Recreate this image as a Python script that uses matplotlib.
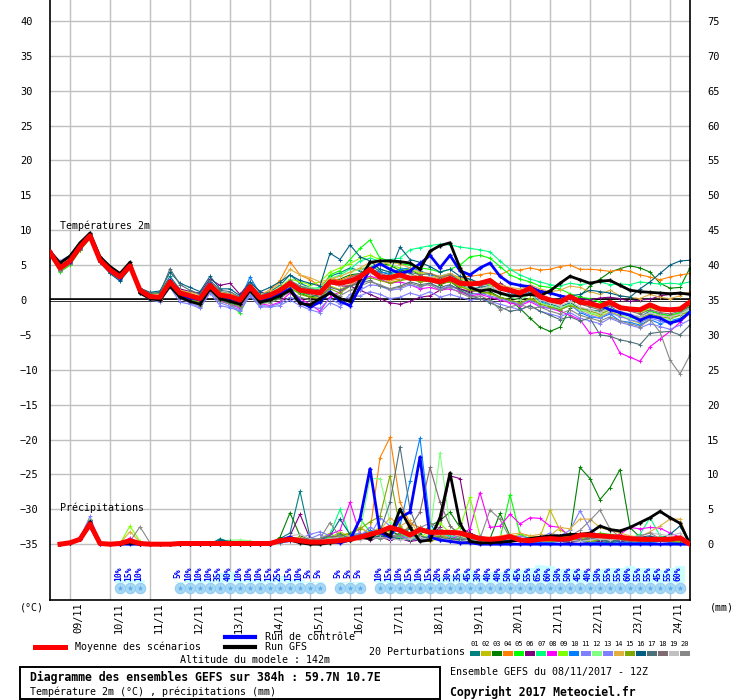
import matplotlib
matplotlib.use('Agg')
import matplotlib.pyplot as plt
from matplotlib.lines import Line2D
from matplotlib.patches import Rectangle
from matplotlib.transforms import blended_transform_factory

plt.rcParams['font.family'] = ['DejaVu Sans Mono', 'DejaVu Sans']

# time steps (hours after 08/11 12Z)
hours = list(range(0, 385, 6))
precip_hours = hours[1:]
grid_hours = list(range(12, 384, 24))
dates = ['09/11', '10/11', '11/11', '12/11', '13/11', '14/11', '15/11', '16/11',
         '17/11', '18/11', '19/11', '20/11', '21/11', '22/11', '23/11', '24/11']

member_colors = ['#008080', '#c0c000', '#008000', '#ff8000', '#00ff00', '#800080',
                 '#00ff80', '#ff00ff', '#80ff00', '#0080ff', '#8080ff', '#80ff80',
                 '#7f7fff', '#e0b040', '#80a800', '#005f80', '#4f7078', '#7f6a72',
                 '#c0c0c0', '#888888']

# temperature 2m
mean_t = [6.8, 4.6, 5.6, 7.6, 9.2, 5.7, 4.3, 3.3, 4.9, 1.4, 0.5, 0.4, 2.6, 1.0, 0.6, 0.2, 2.1, 0.7, 0.5, 0.0,
          1.9, 0.3, 0.7, 1.4, 2.4, 1.4, 1.2, 1.0, 2.6, 2.4, 2.7, 3.3, 4.4, 3.3, 3.2, 3.6, 3.1, 3.1, 2.9, 2.6,
          3.1, 2.4, 2.3, 2.4, 2.8, 1.7, 1.4, 1.0, 1.7, 0.5, 0.0, -0.3, 0.5, -0.3, -0.5, -0.9, -0.3, -1.1, -1.3, -1.4,
          -0.7, -1.3, -1.4, -1.3, -0.3]
gfs_t = [7.0, 5.3, 6.3, 8.2, 9.6, 6.2, 4.8, 3.8, 5.4, 1.0, 0.2, 0.0, 2.0, 0.4, -0.2, -0.6, 1.6, 0.2, -0.2, -0.6,
         1.4, -0.3, 0.0, 0.6, 1.4, -0.5, -0.7, 0.2, 1.0, 0.2, -0.2, 3.0, 5.4, 5.6, 5.6, 5.5, 5.3, 4.4, 7.0, 7.8,
         8.2, 4.6, 1.8, 1.3, 1.5, 1.0, 0.6, 0.6, 0.8, 0.6, 1.3, 2.4, 3.4, 2.9, 2.4, 2.7, 2.8, 2.1, 1.4, 1.2,
         1.1, 1.0, 0.9, 1.0, 0.8]
control_t = [6.7, 4.8, 5.5, 7.5, 9.1, 5.6, 4.2, 3.2, 4.8, 1.2, 0.4, 0.3, 2.8, 0.6, 0.3, 0.0, 2.3, 0.5, 0.2, -0.2,
             2.0, -0.1, 0.2, 0.9, 1.6, -0.3, -1.0, -0.3, 1.2, -0.2, -0.8, 1.8, 4.4, 5.2, 4.4, 3.8, 4.2, 5.2, 6.4, 4.6,
             6.4, 4.2, 3.6, 4.6, 5.3, 3.4, 2.4, 2.1, 1.9, 1.2, 1.0, 0.6, 0.3, -0.2, -0.5, -0.8, -1.4, -1.8, -2.2, -2.9,
             -2.3, -2.6, -3.3, -2.9, -1.7]

t01 = [6.9, 4.9, 5.8, 7.8, 9.3, 5.4, 3.9, 2.9, 4.6, 1.6, 0.9, 1.1, 3.4, 1.5, 0.9, 0.3, 2.6, 1.2, 0.9, 0.2, 2.3, 0.7,
       1.2, 2.1, 3.6, 2.4, 1.8, 1.2, 3.4, 3.9, 4.6, 4.2, 5.0, 4.1, 3.6, 4.4, 3.8, 3.2, 3.0, 2.4, 3.3, 2.2, 1.6,
       1.8, 2.1, 1.0, 0.8, 0.4, 1.2, 0.0, -0.6, -1.0, -0.4, -1.2, -1.4, -1.6, -0.9, -1.8, -2.2, -2.4, -1.6, -2.0, -2.3, -1.9, -1.2]
t02 = [6.7, 4.4, 5.3, 7.4, 9.0, 5.8, 4.5, 3.4, 5.0, 1.3, 0.4, 0.2, 2.3, 0.8, 0.2, -0.3, 1.7, 0.3, 0.0, -0.6, 1.5, 0.0,
       0.4, 1.0, 2.0, 1.2, 0.6, 0.2, 2.0, 1.5, 2.2, 3.0, 4.2, 3.4, 2.5, 2.8, 3.3, 2.6, 3.4, 2.2, 2.7, 1.9, 1.4,
       1.2, 0.9, 0.3, -0.3, -0.6, 0.3, -0.4, -0.8, -1.3, -0.6, -1.4, -1.9, -2.4, -1.7, -2.2, -2.9, -3.3, -2.6, -2.1, -2.4, -1.8, -0.7]
t03 = [6.6, 4.2, 5.2, 7.2, 8.9, 5.9, 4.6, 3.6, 5.1, 1.2, 0.3, 0.0, 2.1, 0.4, -0.2, -0.6, 1.4, 0.0, -0.4, -0.9, 1.1, -0.4,
       0.2, 0.9, 2.2, 1.0, 0.4, 0.8, 2.8, 3.0, 3.6, 3.8, 4.6, 5.2, 5.0, 4.2, 4.4, 3.6, 2.8, 2.2, 2.7, 1.6, 1.0,
       0.8, 1.2, 0.4, 0.0, -1.2, -2.6, -3.9, -4.5, -3.9, -1.2, 0.6, 2.0, 3.0, 4.0, 4.5, 4.9, 4.6, 4.0, 2.4, 1.7, 1.8, 4.6]
t04 = [6.8, 4.7, 5.7, 7.7, 9.3, 5.6, 4.2, 3.2, 4.8, 1.5, 0.7, 0.6, 2.9, 1.3, 0.9, 0.5, 2.4, 1.0, 0.8, 0.3, 2.2, 0.6,
       1.5, 2.8, 5.5, 3.6, 2.9, 2.0, 3.2, 2.8, 3.4, 3.6, 4.0, 3.2, 2.8, 3.0, 3.6, 3.3, 3.4, 3.0, 3.7, 3.2, 3.4,
       3.6, 3.9, 3.6, 4.3, 4.3, 4.6, 4.3, 4.4, 4.8, 5.0, 4.4, 4.4, 4.3, 4.1, 4.3, 4.1, 3.6, 3.3, 2.9, 3.3, 3.6, 3.8]
t05 = [6.5, 4.0, 5.0, 7.1, 8.8, 6.0, 4.7, 3.7, 5.2, 1.1, 0.2, -0.1, 2.2, 0.3, -0.1, -0.8, 1.6, 0.1, -0.5, -1.9, 1.0, -0.6,
       -0.2, 0.4, 1.6, 1.0, 0.8, 1.4, 3.6, 4.2, 5.8, 7.4, 8.6, 6.0, 5.6, 5.2, 5.0, 4.6, 4.4, 4.0, 4.4, 5.0, 6.2,
       6.4, 6.0, 4.8, 3.6, 3.0, 2.6, 2.0, 1.8, 1.6, 0.9, 0.4, 0.2, -0.3, -0.6, -0.9, -1.2, -1.3, -1.6, -2.0, -2.2, -1.8, -0.8]
t06 = [6.7, 4.5, 5.5, 7.5, 9.1, 5.8, 4.4, 3.4, 4.9, 1.5, 0.6, 0.5, 2.7, 1.6, 1.2, 1.0, 3.0, 2.1, 2.4, 0.8, 2.6, 1.2,
       0.8, 1.4, 2.6, 2.0, 1.2, 1.6, 2.4, 2.0, 2.0, 1.4, 0.8, 0.2, -0.4, -0.6, -0.2, 0.4, 0.6, 1.4, 2.0, 1.6, 1.2,
       1.4, 1.8, 2.4, 1.6, 1.2, 1.8, 1.4, 1.0, 0.6, 0.4, 0.2, 0.0, 0.3, 0.4, 0.2, -0.2, 0.0, 0.1, 0.6, 0.8, 0.9, 1.0]
t07 = [6.8, 4.6, 5.6, 7.6, 9.2, 5.7, 4.3, 3.3, 4.8, 1.3, 0.4, 0.3, 2.5, 0.9, 0.5, 0.1, 2.0, 0.6, 0.4, -0.1, 1.8, 0.2,
       0.6, 1.2, 2.4, 1.8, 1.6, 1.8, 3.0, 3.6, 4.4, 5.6, 6.0, 5.6, 5.8, 6.0, 7.2, 7.5, 7.8, 8.0, 7.9, 7.6, 7.4,
       7.2, 6.9, 5.6, 4.4, 3.6, 3.0, 2.6, 2.2, 2.0, 2.4, 2.2, 2.4, 2.6, 2.2, 2.3, 2.2, 2.6, 2.4, 2.3, 2.4, 2.3, 2.6]
t08 = [6.6, 4.3, 5.3, 7.3, 9.0, 5.9, 4.5, 3.5, 5.0, 1.2, 0.2, 0.0, 2.2, 0.5, 0.0, -0.6, 1.5, -0.1, -0.6, -1.2, 1.2, -0.5,
       -0.8, -0.3, 1.0, 0.2, -0.6, -1.6, 0.4, 1.2, 2.0, 2.8, 3.4, 3.0, 2.4, 2.6, 2.2, 1.6, 1.8, 1.4, 1.6, 1.2, 0.6,
       0.8, 0.4, 0.0, -0.4, -0.8, -0.2, -1.0, -1.2, -1.6, -2.2, -2.8, -4.8, -4.6, -4.9, -7.6, -8.2, -8.8, -6.7, -5.6, -4.5, -3.2, -1.9]
t09 = [6.9, 5.0, 6.0, 8.0, 9.5, 5.5, 4.0, 3.0, 4.5, 1.7, 1.0, 0.9, 2.9, 1.1, 0.8, 0.4, 2.2, 0.9, 0.6, 0.1, 1.9, 0.4,
       1.0, 1.8, 3.0, 2.6, 2.2, 2.6, 4.0, 4.6, 5.2, 6.0, 6.4, 5.8, 5.0, 4.6, 4.4, 3.8, 3.6, 3.2, 3.6, 3.0, 2.6,
       2.4, 2.2, 1.6, 1.2, 1.0, 1.4, 0.6, 0.2, 0.0, 0.4, -0.4, -0.8, -1.2, -0.6, -1.0, -1.4, -1.8, -1.2, -1.5, -1.6, -1.2, -0.5]
t10 = [6.8, 4.8, 5.9, 7.9, 9.4, 5.6, 4.1, 3.1, 4.7, 1.5, 0.6, 0.4, 2.8, 1.2, 0.8, 0.4, 2.6, 0.9, 0.6, 0.0, 3.3, 0.9,
       0.9, 1.6, 2.6, 1.6, 1.4, 1.0, 2.6, 2.2, 2.8, 3.6, 4.4, 4.0, 3.8, 4.4, 4.6, 4.2, 3.6, 3.4, 3.8, 2.6, 2.0,
       2.2, 2.6, 1.6, 1.0, 0.6, 1.0, -0.2, -0.8, -1.4, -0.6, -1.8, -2.4, -2.6, -2.0, -3.0, -3.2, -3.6, -2.8, -3.4, -3.0, -2.6, -1.8]
t11 = [6.6, 4.4, 5.4, 7.4, 9.0, 5.9, 4.6, 3.6, 5.1, 1.1, 0.1, -0.1, 2.0, 0.2, -0.4, -1.0, 1.2, -0.4, -0.9, -1.4, 0.9, -0.8,
       -0.9, -0.5, 0.4, -0.4, -1.0, -1.2, 0.2, -0.6, 0.8, 1.4, 2.2, 2.0, 1.4, 1.6, 2.2, 1.8, 2.4, 1.6, 2.0, 1.4, 0.8,
       1.0, 0.6, 0.2, -0.2, -0.6, 0.0, -0.8, -1.2, -1.4, -0.8, -1.6, -2.2, -2.6, -1.8, -2.4, -2.8, -3.2, -2.6, -3.0, -3.4, -2.8, -2.0]
t12 = [6.7, 4.5, 5.4, 7.4, 9.1, 5.8, 4.4, 3.4, 5.0, 1.3, 0.3, 0.2, 2.4, 0.7, 0.1, -0.5, 1.8, 0.3, 0.0, -0.9, 1.6, -0.2,
       0.5, 1.3, 2.8, 2.0, 1.8, 1.6, 3.2, 3.4, 4.0, 4.4, 5.0, 4.4, 4.0, 3.6, 3.2, 2.8, 2.6, 2.4, 3.0, 2.0, 1.6,
       1.4, 1.8, 0.8, 0.4, 0.0, 0.8, -0.4, -0.8, -1.2, -0.6, -1.4, -1.8, -2.2, -1.4, -2.0, -2.6, -2.8, -2.2, -2.6, -2.8, -2.2, -1.4]
t13 = [6.9, 5.6, 6.4, 8.1, 9.4, 5.5, 4.0, 3.0, 4.6, 1.0, 0.0, -0.3, 1.8, -0.3, -0.6, -1.2, 1.0, -0.8, -1.1, -1.6, 0.6, -1.0,
       -1.0, -0.8, 0.0, -0.8, -1.4, -1.8, -0.4, -1.0, 0.4, 0.6, 1.2, 0.8, 0.2, 0.4, 1.0, 0.6, 1.2, 0.4, 0.8, 0.4, 0.0,
       0.2, -0.2, -0.6, -1.0, -1.4, -0.8, -1.6, -2.0, -2.4, -1.8, -2.6, -3.0, -3.4, -2.6, -3.2, -3.6, -4.0, -3.4, -3.8, -4.2, -3.6, -2.8]
t14 = [6.8, 4.6, 5.7, 7.7, 9.2, 5.6, 4.2, 3.2, 4.9, 1.5, 0.7, 0.6, 2.8, 1.4, 1.1, 0.7, 2.5, 1.1, 0.9, 0.4, 2.4, 0.8,
       1.4, 2.4, 4.4, 3.6, 3.2, 2.6, 3.0, 3.4, 4.0, 4.6, 5.4, 5.0, 5.4, 5.2, 4.6, 4.0, 3.8, 3.4, 3.8, 3.2, 2.8,
       2.6, 3.0, 2.2, 1.8, 1.6, 2.2, 1.6, 1.2, 1.4, 2.0, 1.8, 1.2, 0.8, 1.4, 0.6, 0.4, 0.2, 0.8, 0.4, 0.2, 0.6, 1.2]
t15 = [6.5, 4.1, 5.1, 7.2, 8.9, 5.9, 4.6, 3.6, 5.0, 1.3, 0.4, 0.2, 2.4, 0.6, 0.2, -0.4, 1.8, 0.2, -0.2, -0.8, 1.4, -0.2,
       0.0, 0.6, 1.8, 0.8, 0.4, 0.2, 1.6, 1.0, 2.0, 2.6, 3.2, 2.8, 2.4, 2.8, 3.0, 2.6, 2.8, 2.4, 2.6, 2.0, 1.4,
       1.2, 1.0, 0.4, 0.0, -0.4, 0.2, -0.6, -1.0, -1.4, -0.8, -1.2, -1.6, -2.0, -1.4, -1.8, -2.2, -2.6, -2.0, -2.4, -2.6, -2.2, -1.6]
t16 = [6.9, 5.2, 6.2, 8.0, 9.4, 5.4, 3.8, 2.7, 4.5, 1.7, 1.1, 1.3, 4.0, 2.4, 1.8, 1.2, 3.4, 1.6, 1.6, 0.6, 2.6, 1.2,
       1.8, 2.6, 3.6, 2.8, 2.4, 2.0, 6.7, 5.8, 7.9, 6.2, 5.6, 4.4, 4.0, 7.6, 5.8, 5.4, 4.8, 4.0, 4.4, 3.4, 3.0,
       2.4, 2.8, 1.6, 1.2, 0.8, 1.4, 0.6, 0.2, 0.0, 0.6, 0.8, 1.4, 1.2, 1.0, 0.6, 0.4, 1.6, 2.6, 3.8, 5.0, 5.6, 5.7]
t17 = [6.7, 4.3, 5.3, 7.3, 9.0, 5.7, 4.4, 3.5, 5.0, 1.6, 1.0, 1.0, 4.5, 2.2, 1.4, 0.8, 2.8, 1.4, 1.2, 0.4, 2.2, 0.6,
       0.8, 1.2, 2.2, 1.2, 0.8, 0.4, 1.8, 1.4, 2.0, 2.4, 2.8, 2.0, 1.6, 2.0, 2.6, 2.2, 2.4, 1.8, 2.2, 1.4, 0.6,
       0.2, -0.4, -1.0, -1.6, -1.4, -0.8, -1.6, -2.2, -2.8, -2.4, -3.0, -2.6, -5.0, -5.2, -5.7, -6.0, -6.4, -4.8, -4.6, -4.5, -5.0, -3.6]
t18 = [6.8, 4.7, 5.6, 7.6, 9.2, 5.6, 4.2, 3.3, 4.8, 1.4, 0.6, 0.5, 2.7, 1.1, 0.7, 0.3, 2.2, 0.8, 0.6, 0.1, 2.0, 0.4,
       0.8, 1.6, 2.8, 2.0, 1.6, 1.4, 2.8, 2.6, 3.2, 3.8, 4.2, 3.8, 3.4, 3.6, 4.0, 3.6, 3.8, 3.2, 3.6, 2.8, 2.2,
       2.0, 2.4, 1.6, 1.2, 0.8, 1.6, 0.4, 0.0, -0.4, 0.2, -0.6, -1.0, -1.4, -0.8, -1.2, -1.6, -2.0, -1.4, -1.8, -2.0, -1.6, -1.0]
t19 = [6.7, 4.5, 5.5, 7.5, 9.1, 5.8, 4.4, 3.4, 5.0, 1.3, 0.4, 0.3, 2.5, 0.9, 0.4, 0.0, 1.9, 0.5, 0.2, -0.2, 1.7, 0.1,
       0.4, 1.1, 2.4, 1.4, 1.0, 0.8, 2.4, 2.0, 2.6, 3.2, 3.8, 3.4, 3.0, 3.2, 3.6, 3.2, 3.4, 2.8, 3.2, 2.4, 1.8,
       1.6, 2.0, 1.2, 0.8, 0.4, 1.0, 0.0, -0.4, -0.8, -0.2, -1.0, -1.4, -1.8, -1.2, -1.6, -2.0, -2.4, -1.8, -2.2, -2.4, -2.0, -1.2]
t20 = [6.6, 4.2, 5.2, 7.3, 9.6, 5.9, 4.5, 3.5, 5.0, 1.2, 0.1, -0.2, 2.2, 0.3, -0.2, -0.8, 1.4, -0.2, -0.6, -1.0, 1.2, -0.4,
       -0.4, 0.2, 1.2, 0.4, 0.0, -0.4, 1.2, 0.6, 1.4, 2.0, 2.6, 2.2, 1.6, 1.8, 2.4, 2.0, 2.2, 1.4, 1.8, 1.0, 0.4,
       0.6, 0.0, -1.4, -1.0, -0.6, -1.2, -1.0, -1.6, -2.0, -1.4, -2.2, -2.6, -3.0, -2.4, -3.0, -3.4, -3.8, -2.8, -4.6, -8.6, -10.6, -7.9]
member_t = [t01, t02, t03, t04, t05, t06, t07, t08, t09, t10,
            t11, t12, t13, t14, t15, t16, t17, t18, t19, t20]

# precipitation (mm / 6h), from +6h
mean_p = [0.0, 0.2, 0.7, 2.9, 0.1, 0.0, 0.1, 0.5, 0.1, 0.0, 0.0, 0.0, 0.1, 0.1, 0.1, 0.1,
          0.1, 0.1, 0.1, 0.1, 0.1, 0.1, 0.5, 0.7, 0.5, 0.3, 0.3, 0.4, 0.5, 0.7, 1.0, 1.4,
          1.8, 2.4, 2.0, 1.3, 2.1, 1.7, 1.7, 1.7, 1.6, 1.2, 0.8, 0.7, 0.8, 1.1, 0.6, 0.5,
          0.7, 0.8, 0.7, 0.8, 1.3, 1.3, 1.2, 1.1, 1.0, 0.8, 0.7, 0.7, 0.7, 0.7, 0.9, 0.0]
gfs_p = [0, 0.2, 0.8, 3.2, 0.1, 0, 0, 0.2, 0, 0, 0, 0, 0, 0, 0, 0,
         0, 0, 0, 0, 0, 0, 0.4, 0.6, 0.2, 0, 0, 0.2, 0.4, 0.6, 1.0, 0.8,
         2.0, 1.2, 5.0, 2.4, 0.4, 0.6, 3.8, 10.2, 3.0, 0.4, 0.2, 0.2, 0.3, 0.4, 0.6, 0.8,
         1.0, 1.2, 1.2, 1.4, 1.4, 1.6, 2.6, 2.1, 1.9, 2.4, 3.1, 3.8, 4.7, 3.8, 3.0, 0.0]
control_p = [0, 0.2, 0.7, 2.6, 0, 0, 0, 0, 0, 0, 0, 0, 0, 0, 0, 0,
             0, 0, 0, 0, 0, 0, 0.6, 1.0, 0.4, 0.2, 0.2, 0.4, 0.2, 0.6, 3.6, 10.8,
             1.7, 1.0, 3.8, 4.6, 12.5, 1.0, 0.6, 0.4, 0.2, 0.2, 0, 0, 0, 0, 0, 0,
             0, 0, 0, 0, 0, 0, 0, 0, 0, 0, 0, 0, 0, 0, 0, 0]

p01 = [0, 0.2, 0.9, 3.4, 0.1, 0, 0.1, 0.3, 0.2, 0, 0, 0, 0, 0, 0, 0,
       0.8, 0.3, 0.2, 0.1, 0, 0, 0.8, 1.6, 7.6, 1.0, 0.4, 0.6, 0.8, 1.2, 1.6, 0.8,
       1.2, 0.6, 1.4, 2.2, 0.8, 1.2, 1.0, 0.6, 0.4, 0.8, 0.6, 0.4, 0.2, 0.4, 0.6, 0.3,
       0.4, 0.8, 0.4, 0.2, 0.6, 0.4, 0.3, 0.2, 0.4, 0.3, 0.2, 0.4, 0.6, 0.8, 0.4, 0]
p02 = [0, 0.2, 0.7, 2.4, 0.1, 0, 0, 0.3, 0, 0, 0, 0, 0, 0, 0, 0,
       0, 0, 0, 0, 0, 0, 0.3, 0.6, 0.4, 0.2, 0.8, 1.6, 0.6, 0.4, 1.2, 1.6,
       2.4, 1.8, 1.2, 2.8, 0.6, 0.4, 0.8, 0.6, 0.4, 0.2, 0.3, 0.4, 0.6, 1.0, 1.4, 1.2,
       1.0, 4.9, 2.0, 1.4, 0.8, 0.6, 0.6, 0.4, 0.6, 0.8, 0.4, 0.3, 0.4, 0.5, 0.6, 0]
p03 = [0, 0.2, 0.8, 3.0, 0.1, 0, 0.1, 0.5, 0.1, 0, 0, 0, 0, 0, 0, 0,
       0.2, 0.2, 0.1, 0, 0, 0, 1.0, 4.5, 1.2, 0.6, 0.4, 0.8, 1.0, 0.6, 1.4, 1.2,
       1.6, 2.0, 1.2, 0.8, 1.4, 2.6, 3.4, 4.6, 2.4, 1.6, 1.0, 0.8, 4.4, 1.2, 0.8, 0.6,
       0.8, 1.0, 1.2, 1.4, 11.0, 9.4, 6.4, 8.1, 10.7, 2.4, 1.0, 0.8, 0.6, 0.8, 0.6, 0]
p04 = [0, 0.2, 0.8, 3.2, 0.1, 0, 0.1, 0.6, 0.2, 0, 0, 0, 0, 0, 0, 0,
       0, 0, 0, 0, 0, 0, 0.2, 0.8, 0.6, 0.4, 0.6, 0.8, 1.2, 1.4, 1.0, 1.8,
       12.4, 15.3, 6.0, 3.0, 2.4, 1.4, 0.8, 0.6, 0.4, 0.6, 0.8, 0.4, 0.6, 0.4, 0.6, 0.8,
       0.6, 0.4, 0.6, 0.8, 0.6, 0.4, 0.6, 0.4, 0.8, 0.6, 0.4, 0.6, 0.4, 0.6, 0.4, 0]
p05 = [0, 0.2, 0.8, 3.0, 0.1, 0, 0, 0.4, 0, 0, 0, 0, 0, 0, 0, 0,
       0, 0, 0, 0, 0, 0, 0.3, 0.6, 0.4, 0.4, 0.6, 1.0, 1.6, 0.8, 3.6, 1.8,
       1.2, 0.8, 1.4, 1.0, 0.6, 0.8, 1.6, 1.2, 0.6, 1.2, 0.8, 0.6, 0.8, 7.1, 1.4, 0.8,
       0.6, 0.8, 1.0, 1.2, 1.4, 1.0, 1.6, 1.4, 1.2, 0.8, 0.6, 0.4, 0.6, 0.8, 0.6, 0]
p06 = [0, 0.2, 0.8, 3.4, 0.1, 0, 0, 0.2, 0.1, 0, 0, 0, 0, 0, 0, 0,
       0, 0, 0, 0, 0, 0, 0.4, 1.2, 4.3, 0.8, 0.6, 0.4, 0.6, 0.8, 1.0, 0.6,
       1.0, 0.6, 0.8, 0.4, 0.6, 1.2, 2.4, 9.8, 9.4, 1.6, 0.8, 0.6, 0.4, 0.6, 0.4, 0.3,
       0.4, 0.6, 0.4, 0.3, 0.4, 0.2, 0.4, 0.6, 0.4, 0.3, 0.2, 0.3, 0.4, 0.3, 0.2, 0]
p07 = [0, 0.2, 0.7, 2.8, 0.1, 0, 0, 0.3, 0, 0, 0, 0, 0, 0, 0, 0,
       0, 0, 0, 0, 0, 0, 0.6, 0.8, 0.6, 0.4, 0.8, 1.4, 5.0, 1.2, 0.8, 1.0,
       0.8, 1.2, 1.0, 0.8, 0.6, 1.4, 1.6, 1.2, 0.8, 0.6, 0.8, 0.6, 0.4, 0.6, 0.8, 0.6,
       0.8, 1.2, 0.8, 0.6, 0.8, 1.0, 0.6, 0.8, 1.2, 0.8, 1.4, 3.8, 1.2, 0.8, 0.6, 0]
p08 = [0, 0.2, 0.8, 3.1, 0.1, 0, 0.1, 0.9, 0.1, 0, 0, 0, 0, 0, 0, 0,
       0, 0, 0, 0, 0, 0, 0.4, 0.6, 0.8, 0.4, 0.6, 1.4, 2.0, 6.0, 1.4, 0.8,
       1.0, 0.8, 1.2, 0.6, 0.8, 1.0, 1.4, 0.8, 1.2, 2.2, 7.4, 2.4, 2.6, 4.3, 2.9, 3.8,
       3.7, 2.6, 2.4, 1.0, 0.8, 0.6, 0.8, 1.0, 1.4, 2.4, 2.2, 2.4, 2.3, 1.6, 1.0, 0]
p09 = [0, 0.2, 0.9, 3.6, 0.1, 0, 0.1, 2.6, 0.4, 0, 0, 0, 0, 0, 0, 0,
       0, 0, 0, 0, 0, 0, 0.4, 0.8, 1.0, 0.6, 0.4, 0.8, 1.2, 1.6, 2.4, 1.4,
       1.8, 1.2, 0.8, 0.6, 1.0, 1.8, 3.0, 1.6, 2.4, 6.7, 1.2, 0.8, 0.6, 1.0, 0.8, 0.6,
       0.6, 0.8, 1.0, 0.8, 1.0, 0.6, 0.8, 1.0, 0.8, 0.6, 0.4, 0.6, 0.8, 0.6, 0.4, 0]
p10 = [0, 0.2, 0.8, 2.8, 0, 0, 0, 0.3, 0, 0, 0, 0, 0, 0, 0, 0,
       0, 0, 0, 0, 0, 0, 0.2, 0.4, 0.6, 0.4, 0.2, 0.6, 0.8, 0.6, 1.2, 2.0,
       1.4, 1.0, 2.6, 9.0, 15.2, 3.0, 0.8, 0.4, 0.2, 0.4, 0.2, 0.3, 0.4, 0.6, 0.4, 0.2,
       0.3, 0.2, 0.4, 0.6, 0.4, 0.3, 0.2, 0.4, 0.3, 0.2, 0.3, 0.2, 0.4, 0.3, 0.2, 0]
p11 = [0, 0.2, 0.7, 2.6, 0.1, 0, 0, 0.3, 0, 0, 0, 0, 0, 0, 0, 0,
       0, 0, 0, 0, 0, 0, 0.3, 0.6, 0.8, 1.4, 1.8, 1.2, 0.6, 0.8, 1.2, 2.4,
       1.6, 1.0, 1.2, 0.8, 0.6, 0.8, 1.4, 1.0, 0.6, 0.8, 1.2, 0.6, 0.4, 0.8, 1.2, 0.8,
       1.0, 1.6, 1.2, 2.0, 4.8, 2.2, 1.0, 0.8, 0.6, 0.4, 0.6, 0.8, 0.6, 0.4, 0.6, 0]
p12 = [0, 0.2, 0.8, 3.0, 0.1, 0, 0, 0.4, 0.1, 0, 0, 0, 0, 0, 0, 0,
       0.4, 0.6, 0.6, 0.5, 0, 0, 0.2, 0.6, 0.8, 0.4, 0.6, 0.8, 1.0, 1.2, 1.6, 9.4,
       9.4, 3.2, 1.6, 1.0, 0.8, 1.4, 13.1, 2.6, 1.2, 0.8, 0.6, 0.8, 0.6, 0.4, 0.6, 0.4,
       0.6, 0.4, 0.6, 0.8, 0.6, 0.4, 0.6, 0.8, 0.6, 0.4, 0.6, 0.8, 0.6, 0.4, 0.6, 0]
p13 = [0, 0.2, 0.9, 4.0, 0.1, 0, 0, 0.2, 0, 0, 0, 0, 0, 0, 0, 0,
       0, 0, 0, 0, 0, 0, 0.2, 0.4, 0.6, 0.8, 1.4, 0.6, 0.8, 1.2, 1.6, 1.2,
       3.8, 2.6, 1.8, 1.2, 0.8, 0.6, 1.0, 0.8, 0.6, 0.4, 0.6, 0.8, 0.6, 0.4, 0.8, 0.6,
       0.8, 1.2, 0.8, 1.0, 1.4, 1.6, 1.2, 0.8, 0.6, 0.8, 1.0, 0.8, 0.6, 0.8, 0.6, 0]
p14 = [0, 0.2, 0.8, 3.2, 0.1, 0, 0.1, 1.8, 0.3, 0, 0, 0, 0, 0, 0, 0,
       0, 0, 0, 0, 0, 0, 0.4, 0.8, 1.0, 0.6, 0.4, 0.8, 1.8, 1.0, 2.4, 1.6,
       2.0, 3.8, 2.6, 3.4, 1.2, 0.8, 1.4, 0.8, 0.6, 0.4, 0.6, 0.8, 1.2, 1.4, 1.6, 1.2,
       1.4, 1.2, 2.4, 2.2, 3.6, 3.6, 2.4, 2.0, 1.6, 1.2, 1.0, 1.8, 2.6, 3.6, 3.6, 0]
p15 = [0, 0.2, 0.8, 2.9, 0.1, 0, 0, 0.3, 0, 0, 0, 0, 0, 0, 0, 0,
       0, 0, 0, 0, 0, 0, 0.3, 0.6, 0.8, 0.4, 0.6, 0.8, 1.2, 1.6, 2.2, 3.2,
       4.0, 9.8, 2.4, 1.6, 1.0, 0.8, 1.2, 0.8, 0.6, 0.4, 0.6, 0.4, 0.6, 0.8, 0.6, 0.4,
       0.6, 0.4, 0.6, 0.8, 0.6, 0.4, 0.6, 0.4, 0.6, 0.8, 0.6, 0.4, 0.6, 0.4, 0.3, 0]
p16 = [0, 0.2, 0.8, 3.0, 0.1, 0, 0, 0.4, 0.1, 0, 0, 0, 0, 0, 0, 0,
       0.6, 0.4, 0.2, 0, 0, 0, 0.4, 0.8, 0.6, 0.8, 0.6, 1.2, 3.6, 1.4, 1.0, 0.8,
       1.2, 1.0, 0.8, 0.6, 1.0, 0.8, 0.6, 0.8, 0.6, 0.4, 0.6, 0.4, 0.6, 0.8, 0.6, 0.4,
       0.6, 0.8, 0.6, 0.4, 0.6, 0.8, 0.6, 0.4, 0.6, 0.8, 1.0, 1.2, 0.8, 1.4, 2.6, 0]
p17 = [0, 0.2, 0.8, 3.3, 0.1, 0, 0, 0.3, 0.2, 0, 0, 0, 0, 0, 0, 0,
       0.2, 0.2, 0, 0, 0, 0, 0.6, 1.0, 0.8, 0.6, 0.4, 0.8, 1.4, 0.8, 1.2, 1.6,
       1.8, 6.0, 14.0, 5.0, 1.2, 0.8, 1.0, 0.6, 0.8, 0.4, 0.6, 0.8, 0.6, 0.4, 0.6, 0.4,
       0.6, 0.8, 0.6, 0.4, 0.6, 0.8, 0.6, 0.4, 0.6, 0.8, 0.6, 0.4, 0.6, 0.8, 0.6, 0]
p18 = [0, 0.2, 0.8, 3.0, 0.1, 0, 0, 0.3, 0, 0, 0, 0, 0, 0, 0, 0,
       0, 0, 0, 0, 0, 0, 0.4, 0.6, 0.8, 0.6, 0.8, 1.2, 0.8, 1.0, 1.4, 1.2,
       1.4, 1.0, 1.6, 2.4, 4.6, 11.0, 6.0, 2.6, 1.4, 0.8, 1.0, 0.6, 0.8, 0.6, 0.4, 0.6,
       0.6, 0.8, 0.6, 0.4, 0.6, 0.8, 1.0, 0.8, 0.6, 0.4, 0.6, 0.8, 0.6, 1.0, 0.8, 0]
p19 = [0, 0.2, 0.7, 2.8, 0.1, 0, 0, 0.2, 0, 0, 0, 0, 0, 0, 0, 0,
       0, 0, 0, 0, 0, 0, 0.4, 1.2, 1.4, 0.8, 0.6, 0.8, 1.0, 0.8, 0.6, 0.8,
       1.0, 0.8, 0.6, 0.8, 1.0, 0.6, 0.8, 0.6, 0.4, 0.6, 0.4, 0.6, 0.8, 0.6, 0.4, 0.6,
       0.4, 0.6, 0.8, 0.6, 0.4, 0.6, 0.8, 0.6, 0.8, 1.0, 1.2, 1.6, 1.4, 1.2, 1.6, 0]
p20 = [0, 0.2, 0.8, 3.0, 0.1, 0, 0.1, 0.4, 2.5, 0.2, 0, 0, 0, 0, 0, 0,
       0, 0, 0, 0, 0, 0, 0.3, 0.6, 0.8, 0.6, 0.8, 3.1, 1.0, 0.8, 1.2, 1.0,
       0.8, 1.0, 1.2, 1.6, 2.4, 3.0, 2.2, 1.4, 1.0, 0.6, 0.8, 4.9, 3.6, 0.8, 0.6, 0.8,
       0.6, 0.8, 0.6, 1.2, 2.0, 3.4, 4.9, 2.2, 1.0, 0.8, 1.2, 1.6, 0.8, 0.6, 0.8, 0]
member_p = [p01, p02, p03, p04, p05, p06, p07, p08, p09, p10,
            p11, p12, p13, p14, p15, p16, p17, p18, p19, p20]

# snow probability (%) per time step, None = no symbol
snow_pct = [None, None, None, None, None, None, None, 10, 15, 10,
            None, None, None, 5, 10, 10, 10, 35, 40, 10,
            10, 10, 15, 25, 15, 10, 5, 5, None, 5,
            5, 5, None, 10, 15, 10, 15, 10, 15, 20,
            30, 35, 45, 30, 40, 40, 50, 45, 55, 65,
            60, 50, 50, 45, 40, 50, 55, 55, 60, 55,
            55, 45, 55, 60, None]


def fx(px):
    return px / 740


def fy(py):
    return 1 - py / 700


fig = plt.figure(figsize=(7.4, 7.0), dpi=100)
ax = fig.add_axes([50 / 740, 100 / 700, 640 / 740, 600 / 700])
ax.set_xlim(0, 384)
ax.set_ylim(-43, 43)
ax.set_xticks(grid_hours)
ax.set_xticklabels([])
ax.set_yticks(range(-35, 41, 5))
ax.set_axisbelow(True)
ax.grid(True, color='#c0c0c0', lw=1.0)
ax.tick_params(axis='both', length=0)
ax.tick_params(axis='y', labelsize=7.5, pad=21.6)
for lab in ax.get_yticklabels():
    lab.set_horizontalalignment('left')
ax.spines['top'].set_visible(False)
for s in ['left', 'right', 'bottom']:
    ax.spines[s].set_linewidth(1.2)

# double zero line
ax.axhline(0, color='black', lw=2.6, zorder=1.5)
ax.axhline(0, color='white', lw=0.8, zorder=1.6)

for t, c in zip(member_t, member_colors):
    ax.plot(hours, t, color=c, lw=0.8, marker='+', ms=3, mew=0.7, zorder=2)
ax.plot(hours, control_t, color='#0000ff', lw=2.0, marker='+', ms=3.5, zorder=3)
ax.plot(hours, gfs_t, color='black', lw=2.0, marker='+', ms=3.5, zorder=3)
ax.plot(hours, mean_t, color='#ff0000', lw=3.6, zorder=4)

ax.text(6, 10.6, 'Températures 2m', fontsize=7.2, va='center', ha='left')
ax.text(6, -29.8, 'Précipitations', fontsize=7.2, va='center', ha='left')

# snow probabilities
snow_h = [h for h, p in zip(hours, snow_pct) if p is not None]
snow_v = [p for p in snow_pct if p is not None]
ax.bar(snow_h, [p * 0.04 for p in snow_v], bottom=-40.56, width=6, color='#ccffff', zorder=1.2)
for h, p in zip(snow_h, snow_v):
    ax.text(h - 1.0, -39.2, f'{p}%', rotation=90, ha='center', va='center',
            fontsize=5.8, weight='bold', color='#0000ff', zorder=5)
ax.scatter(snow_h, [-41.3] * len(snow_h), s=58, marker='o', c='#a6d8f4',
           edgecolors='#88c8f0', linewidths=0.6, zorder=3)
ax.scatter(snow_h, [-41.3] * len(snow_h), s=18, marker='*', c='#5aa8ec', linewidths=0, zorder=3.1)

trans = blended_transform_factory(ax.transData, ax.transAxes)
for h, d in zip(grid_hours, dates):
    ax.text(h + 5, -0.004, d, rotation=90, ha='center', va='top', fontsize=7.4, transform=trans)

# precipitation axis
ax2 = ax.twinx()
ax2.set_ylim(-8, 78)
ax2.set_yticks(range(0, 76, 5))
ax2.tick_params(axis='y', length=0, labelsize=7.5, pad=12.2)
for s in ax2.spines.values():
    s.set_visible(False)
for p, c in zip(member_p, member_colors):
    ax2.plot(precip_hours, p, color=c, lw=0.8, marker='+', ms=3, mew=0.7, zorder=2)
ax2.plot(precip_hours, control_p, color='#0000ff', lw=2.0, marker='+', ms=3.5, zorder=3)
ax2.plot(precip_hours, gfs_p, color='black', lw=2.0, marker='+', ms=3.5, zorder=3)
ax2.plot(precip_hours, mean_p, color='#ff0000', lw=3.6, zorder=4)

# units
fig.text(fx(20), fy(607), '(°C)', fontsize=7.2, va='center')
fig.text(fx(710), fy(607), '(mm)', fontsize=7.2, va='center')

# legend
fig.add_artist(Line2D([fx(35), fx(65)], [fy(647), fy(647)], color='#ff0000', lw=3.6))
fig.text(fx(75), fy(647), 'Moyenne des scénarios', fontsize=7.2, va='center')
fig.add_artist(Line2D([fx(225), fx(255)], [fy(637), fy(637)], color='#0000ff', lw=3))
fig.text(fx(265), fy(637), 'Run de contrôle', fontsize=7.2, va='center')
fig.add_artist(Line2D([fx(225), fx(255)], [fy(647), fy(647)], color='black', lw=3))
fig.text(fx(265), fy(647), 'Run GFS', fontsize=7.2, va='center')
fig.text(fx(180), fy(660), 'Altitude du modele : 142m', fontsize=7.2, va='center')

fig.text(fx(369), fy(652), '20 Perturbations', fontsize=7.2, va='center')
for k, c in enumerate(member_colors):
    fig.add_artist(Rectangle((fx(470 + 11.05 * k), fy(655.5)), 10 / 740, 5 / 700,
                             transform=fig.transFigure, color=c, lw=0))
    fig.text(fx(475 + 11.05 * k), fy(643.5), f'{k + 1:02d}', fontsize=5, ha='center', va='center')

fig.add_artist(Rectangle((fx(20), fy(699)), fx(440) - fx(20), fy(667) - fy(699),
                         transform=fig.transFigure, fill=False, lw=1.4, ec='black'))
fig.text(fx(30), fy(677), 'Diagramme des ensembles GEFS sur 384h : 59.7N 10.7E',
         fontsize=8.3, weight='bold', va='center')
fig.text(fx(30), fy(691.5), 'Température 2m (°C) , précipitations (mm)', fontsize=7.2, va='center')
fig.text(fx(450), fy(672), 'Ensemble GEFS du 08/11/2017 - 12Z', fontsize=7.2, va='center')
fig.text(fx(450), fy(692), 'Copyright 2017 Meteociel.fr', fontsize=8.3, weight='bold', va='center')

fig.savefig('out.png', dpi=100)
